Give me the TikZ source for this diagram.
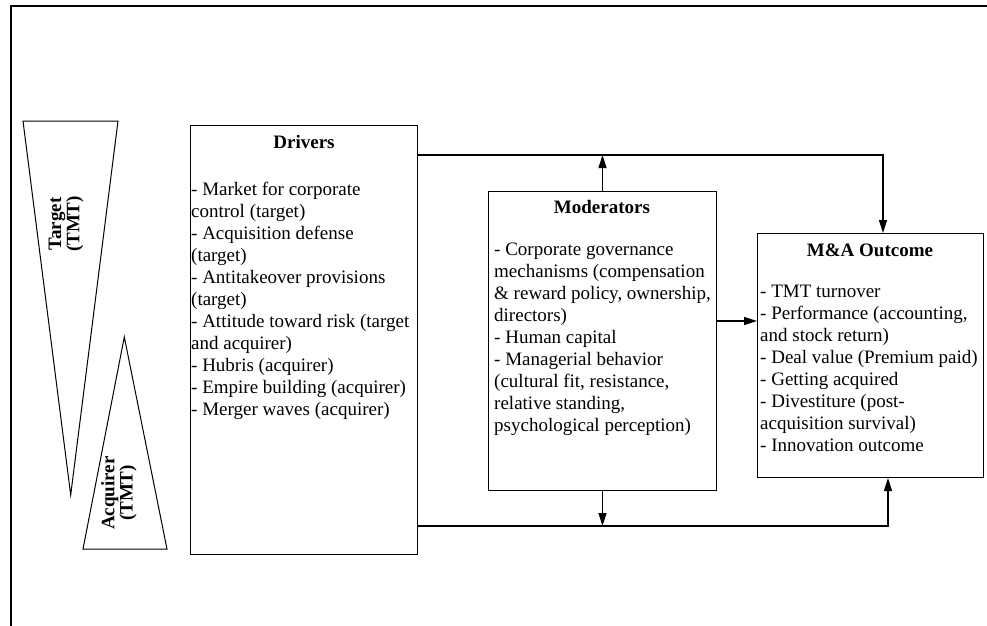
\documentclass[tikz,border=0pt]{standalone}
\usepackage{fontspec}
\setmainfont{Liberation Serif}
\usetikzlibrary{arrows.meta}
\begin{document}
\begin{tikzpicture}[x=1pt,y=-1pt,
  box/.style={draw=black, line width=1pt, inner sep=0pt, anchor=north west},
  title/.style={font=\fontsize{19}{22}\selectfont\bfseries, anchor=base, inner sep=0pt},
  body/.style={font=\fontsize{19}{22}\selectfont, align=left, anchor=north west, inner sep=0pt},
  conn/.style={line width=1.2pt},
  arr/.style={conn, -{Triangle[length=13pt,width=8pt]}},
  tri/.style={draw, line width=1pt, line join=miter},
  tlabel/.style={font=\fontsize{19}{17}\selectfont\bfseries, align=center, rotate=90, inner sep=0pt}]
\useasboundingbox (0,0) rectangle (987,625);
\clip (0,0) rectangle (987,625);
\fill[white] (0,0) rectangle (987,625);
% outer frame (only top and left visible)
\draw[line width=2.3pt] (11,640) -- (11,6) -- (1000,6);

% triangles
\coordinate (tA) at (23,121);
\coordinate (tB) at (118,121);
\coordinate (tC) at (70.7,495);
\draw[tri] (tA) -- (tB) -- (tC) -- cycle;
\coordinate (aA) at (124.3,337);
\coordinate (aB) at (83,549);
\coordinate (aC) at (167,549);
\draw[tri] (aA) -- (aB) -- (aC) -- cycle;
\node[tlabel] (tgtlab) at (66,224) {Target\\(TMT)};
\node[tlabel] (acqlab) at (119,493) {Acquirer\\(TMT)};

% boxes
\node[box, minimum width=227pt, minimum height=429pt] (drv) at (190,125) {};
\node[box, minimum width=228pt, minimum height=299pt] (mod) at (488,191) {};
\node[box, minimum width=226pt, minimum height=244pt] (mao) at (757,233) {};

% titles
\node[title] (drvT) at (304,148) {Drivers};
\node[title] (modT) at (602,213) {Moderators};
\node[title] (maoT) at (870,256) {M\&A Outcome};

% bodies
\node[body] (drvB) at (191,179.6) {\strut- Market for corporate\\
control (target)\\
- Acquisition defense\\
(target)\\
- Antitakeover provisions\\
(target)\\
- Attitude toward risk (target\\
and acquirer)\\
- Hubris (acquirer)\\
- Empire building (acquirer)\\
- Merger waves (acquirer)};
\node[body] (modB) at (494,239.6) {\strut- Corporate governance\\
mechanisms (compensation\\
\& reward policy, ownership,\\
directors)\\
- Human capital\\
- Managerial behavior\\
(cultural fit, resistance,\\
relative standing,\\
psychological perception)};
\node[body] (maoB) at (760,281.6) {\strut- TMT turnover\\
- Performance (accounting,\\
and stock return)\\
- Deal value (Premium paid)\\
- Getting acquired\\
- Divestiture (post-\\
acquisition survival)\\
- Innovation outcome};

% connectors
\coordinate (topline) at (883,155);
\coordinate (botline) at (888,526);
\coordinate (midy) at (0,321);
\draw[arr] (drv.east |- topline) -| (mao.north -| topline);
\draw[arr] (mod.north) -- (mod.north |- topline);
\draw[arr] (mod.east |- midy) -- (mao.west |- midy);
\draw[arr] (drv.east |- botline) -| (mao.south -| botline);
\draw[arr] (mod.south) -- (mod.south |- botline);
\end{tikzpicture}
\end{document}
